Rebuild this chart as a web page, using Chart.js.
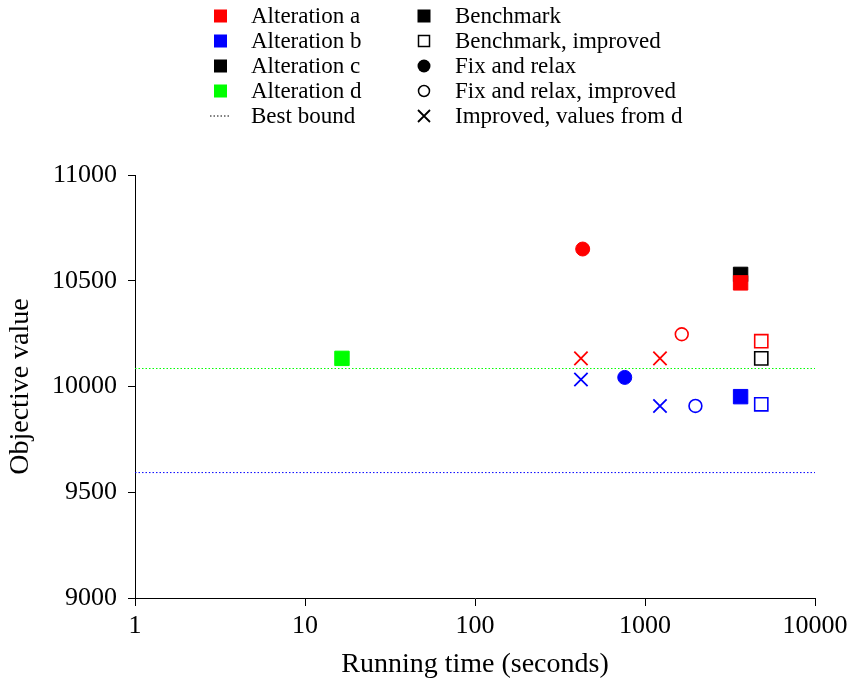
<!DOCTYPE html>
<html>
<head>
<meta charset="utf-8">
<script src="https://cdn.jsdelivr.net/npm/chart.js@4.4.0/dist/chart.umd.min.js"></script>
<style>
body { margin: 0; background: #fff; }
#wrap { width: 856px; height: 685px; }
</style>
</head>
<body>
<div id="wrap"><canvas id="Chart" width="856" height="685"></canvas></div>
<script>
// method names (marker kinds) and alteration names (colours)
const methods = ['Benchmark', 'Benchmark, improved', 'Fix and relax', 'Fix and relax, improved', 'Improved, values from d'];
const alterations = ['Alteration a', 'Alteration b', 'Alteration c', 'Alteration d'];

// running time (seconds), objective value, method index
const timeA = [3650, 4830, 430, 1645, 420, 1225];
const valueA = [10490, 10214, 10650, 10247, 10133, 10133];
const methodA = [0, 1, 2, 3, 4, 4];

const timeB = [3650, 4830, 760, 1980, 420, 1225];
const valueB = [9952, 9916, 10043, 9908, 10033, 9908];
const methodB = [0, 1, 2, 3, 4, 4];

const timeC = [3650, 4830];
const valueC = [10530, 10133];
const methodC = [0, 1];

const timeD = [16.5];
const valueD = [10133];
const methodD = [0];

// best bound lines: alteration d, alteration b
const boundValue = [10085, 9593];

const xTicks = [1, 10, 100, 1000, 10000];
const yTicks = [9000, 9500, 10000, 10500, 11000];

const colors = ['#ff0000', '#0000ff', '#000000', '#00ff00'];
const serif = '"Liberation Serif", "Times New Roman", serif';

// marker look per method
const markStyle = [
	{ style: 'rect', filled: true, r: 10.2, bw: 1 },
	{ style: 'rect', filled: false, r: 9.3, bw: 1.6 },
	{ style: 'circle', filled: true, r: 7, bw: 1 },
	{ style: 'circle', filled: false, r: 6.4, bw: 1.6 },
	{ style: 'crossRot', filled: false, r: 9.4, bw: 1.8 }
];

function pointSet(label, times, values, kinds, color) {
	return {
		label: label,
		data: times.map((t, i) => ({ x: t, y: values[i] })),
		pointStyle: kinds.map(k => markStyle[k].style),
		pointRadius: kinds.map(k => markStyle[k].r),
		pointHoverRadius: kinds.map(k => markStyle[k].r),
		pointBorderWidth: kinds.map(k => markStyle[k].bw),
		pointBackgroundColor: kinds.map(k => markStyle[k].filled ? color : 'rgba(0,0,0,0)'),
		pointBorderColor: color,
		showLine: false
	};
}

function boundSet(value, color) {
	return {
		type: 'line',
		label: 'Best bound',
		data: [{ x: xTicks[0], y: value }, { x: xTicks[xTicks.length - 1], y: value }],
		borderColor: color,
		borderWidth: 1,
		borderDash: [1.5, 2],
		pointRadius: 0,
		fill: false
	};
}

// the key at the top, two columns
const keyPlugin = {
	id: 'keyBox',
	afterDraw(chart) {
		const ctx = chart.ctx;
		ctx.save();
		ctx.font = '23px ' + serif;
		ctx.textBaseline = 'middle';
		ctx.textAlign = 'left';
		alterations.forEach((name, i) => {
			const y = 16 + 25 * i;
			ctx.fillStyle = colors[i];
			ctx.fillRect(214, y - 6.5, 13, 13);
			ctx.fillStyle = '#000';
			ctx.fillText(name, 251, y + 1);
		});
		// best bound
		let y = 16 + 25 * 4;
		ctx.strokeStyle = '#000';
		ctx.lineWidth = 1;
		ctx.setLineDash([1.5, 2]);
		ctx.beginPath();
		ctx.moveTo(210, y);
		ctx.lineTo(231, y);
		ctx.stroke();
		ctx.setLineDash([]);
		ctx.fillText('Best bound', 251, y + 1);

		methods.forEach((name, i) => {
			const y = 16 + 25 * i;
			const cx = 424;
			ctx.fillStyle = '#000';
			ctx.strokeStyle = '#000';
			ctx.lineWidth = 1.5;
			if (i === 0) ctx.fillRect(cx - 6.5, y - 6.5, 13, 13);
			if (i === 1) ctx.strokeRect(cx - 5.5, y - 5.5, 11, 11);
			if (i === 2) { ctx.beginPath(); ctx.arc(cx, y, 6.5, 0, Math.PI * 2); ctx.fill(); }
			if (i === 3) { ctx.beginPath(); ctx.arc(cx, y, 5.5, 0, Math.PI * 2); ctx.stroke(); }
			if (i === 4) {
				ctx.lineWidth = 1.8;
				ctx.beginPath();
				ctx.moveTo(cx - 6, y - 6); ctx.lineTo(cx + 6, y + 6);
				ctx.moveTo(cx - 6, y + 6); ctx.lineTo(cx + 6, y - 6);
				ctx.stroke();
			}
			ctx.fillText(name, 455, y + 1);
		});
		ctx.restore();
	}
};

const canvas = document.getElementById('Chart');
const ctx = canvas.getContext('2d');

const myChart = new Chart(ctx, {
	type: 'scatter',
	data: {
		datasets: [
			pointSet(alterations[0], timeA, valueA, methodA, colors[0]),
			pointSet(alterations[1], timeB, valueB, methodB, colors[1]),
			pointSet(alterations[2], timeC, valueC, methodC, colors[2]),
			pointSet(alterations[3], timeD, valueD, methodD, colors[3]),
			boundSet(boundValue[0], colors[3]),
			boundSet(boundValue[1], colors[1])
		]
	},
	options: {
		responsive: false,
		animation: false,
		layout: { padding: { top: 175, right: 41, left: 0, bottom: 0 } },
		plugins: {
			legend: { display: false },
			tooltip: { enabled: false }
		},
		scales: {
			x: {
				type: 'logarithmic',
				min: 1,
				max: 10000,
				afterBuildTicks: axis => { axis.ticks = xTicks.map(v => ({ value: v })); },
				afterFit: axis => { axis.height = 87; },
				ticks: {
					callback: v => String(v),
					font: { family: serif, size: 26 },
					color: '#000',
					padding: 5,
					maxRotation: 0,
					autoSkip: false
				},
				grid: { drawOnChartArea: false, tickLength: 8, color: '#000' },
				border: { color: '#000', width: 1 },
				title: {
					display: true,
					text: 'Running time (seconds)',
					font: { family: serif, size: 28 },
					color: '#000',
					padding: { top: 0, bottom: 4 }
				}
			},
			y: {
				min: 9000,
				max: 11000,
				afterBuildTicks: axis => { axis.ticks = yTicks.map(v => ({ value: v })); },
				afterFit: axis => { axis.width = 135; },
				ticks: {
					callback: v => String(v),
					font: { family: serif, size: 26 },
					color: '#000',
					padding: 11
				},
				grid: { drawOnChartArea: false, tickLength: 7, color: '#000' },
				border: { color: '#000', width: 1 },
				title: {
					display: true,
					text: 'Objective value',
					font: { family: serif, size: 28 },
					color: '#000',
					padding: { top: 4, bottom: 0 }
				}
			}
		}
	},
	plugins: [keyPlugin]
});
</script>
</body>
</html>
